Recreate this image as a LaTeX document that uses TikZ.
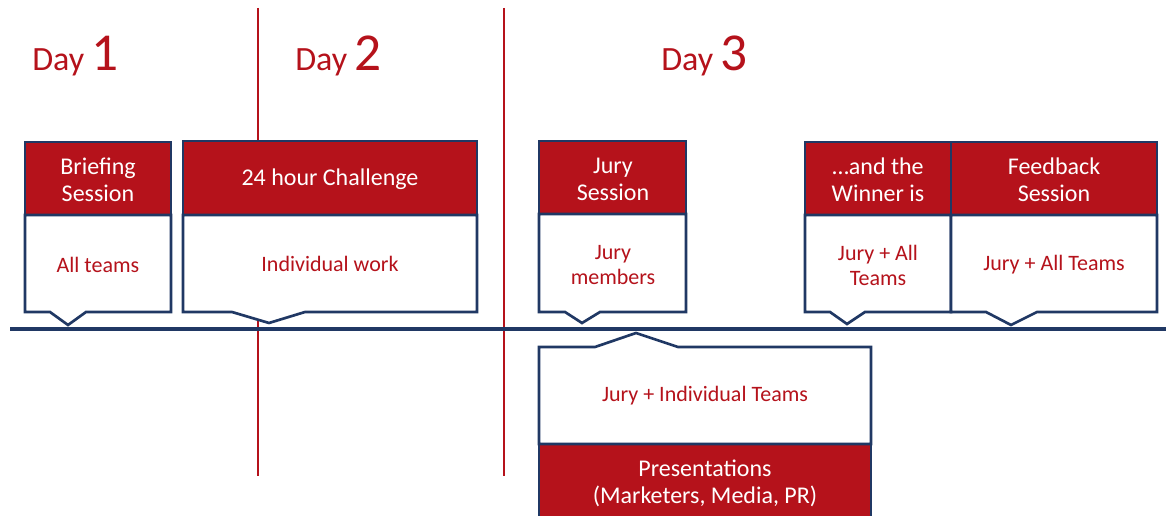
\documentclass[tikz,border=0pt]{standalone}
\usepackage{fontspec}
\setmainfont{Carlito}
\definecolor{brandred}{HTML}{B5121B}
\definecolor{navy}{HTML}{203864}

% Callout box: red header on top, white body below with a notch pointing down
% #1 left, #2 right, #3 top, #4 header bottom, #5 bottom,
% #6 notch left, #7 tip x, #8 tip y, #9 notch right
\newcommand\callout[9]{%
  \fill[brandred] (#1,#3) rectangle (#2,#4);
  \filldraw[outline,fill=white] (#1,#4) -- (#1,#5) -- (#6,#5) -- (#7,#8) -- (#9,#5) -- (#2,#5) -- (#2,#4) -- cycle;
  \draw[outline] (#1,#4) |- (#2,#3) -- (#2,#4);}

\begin{document}
\begin{tikzpicture}[x=0.75pt,y=-0.75pt,
  outline/.style={draw=navy,line width=2pt,line join=miter},
  headtext/.style={text=white,align=center,font=\fontsize{18}{20.3}\selectfont,inner sep=0},
  bodytext/.style={text=brandred,align=center,font=\fontsize{16.5}{18.8}\selectfont,inner sep=0},
  daytext/.style={text=brandred,anchor=base west,inner sep=0},
  dayline/.style={draw=brandred,line width=1.6pt},
  timeline/.style={draw=navy,line width=2.6pt},
]
\useasboundingbox (0,0) rectangle (1166,516);

% day separators
\coordinate (sep12top) at (258,8);
\coordinate (sep12bot) at (258,476);
\coordinate (sep23top) at (504,8);
\coordinate (sep23bot) at (504,476);
\draw[dayline] (sep12top) -- (sep12bot);
\draw[dayline] (sep23top) -- (sep23bot);

% day titles
\node[daytext] (day1) at (32,71) {\fontsize{25.5}{30}\selectfont Day \fontsize{40}{48}\selectfont 1};
\node[daytext] (day2) at (295,71) {\fontsize{25.5}{30}\selectfont Day \fontsize{40}{48}\selectfont 2};
\node[daytext] (day3) at (661,71) {\fontsize{25.5}{30}\selectfont Day \fontsize{40}{48}\selectfont 3};

% sessions above the timeline
\callout{25}{171}{142}{215}{312}{50}{68}{325}{86}
\callout{183}{477}{141}{215}{312}{232}{269}{323}{305}
\callout{539}{686}{141}{214}{312}{565}{582}{323}{600}
\callout{805}{951}{142}{215}{312}{830}{847}{324}{865}
\callout{951}{1157}{142}{215}{312}{986}{1011}{325}{1037}

% presentations below the timeline, notch pointing up
\fill[brandred] (539,444) rectangle (871,520);
\filldraw[outline,fill=white] (539,444) -- (539,347) -- (595,347) -- (636,333) -- (678,347) -- (871,347) -- (871,444) -- cycle;
\draw[outline] (539,444) -- (539,520);
\draw[outline] (871,444) -- (871,520);

% timeline
\coordinate (tlstart) at (10,329);
\coordinate (tlend) at (1166,329);
\draw[timeline] (tlstart) -- (tlend);

% labels
\node[headtext] (brief-h) at (98,180) {Briefing\\Session};
\node[bodytext] (brief-b) at (98,265) {All teams};
\node[headtext] (chal-h) at (330,179) {24 hour Challenge};
\node[bodytext] (chal-b) at (330,264) {Individual work};
\node[headtext] (jury-h) at (613,179) {Jury\\Session};
\node[bodytext] (jury-b) at (613,265) {Jury\\members};
\node[headtext] (win-h) at (878,180) {…and the\\Winner is};
\node[bodytext] (win-b) at (878,265) {Jury + All\\Teams};
\node[headtext] (fb-h) at (1054,180) {Feedback\\Session};
\node[bodytext] (fb-b) at (1054,265) {Jury + All Teams};
\node[bodytext] (pres-b) at (705,396) {Jury + Individual Teams};
\node[headtext] (pres-h) at (705,483) {Presentations\\(Marketers, Media, PR)};
\end{tikzpicture}
\end{document}
